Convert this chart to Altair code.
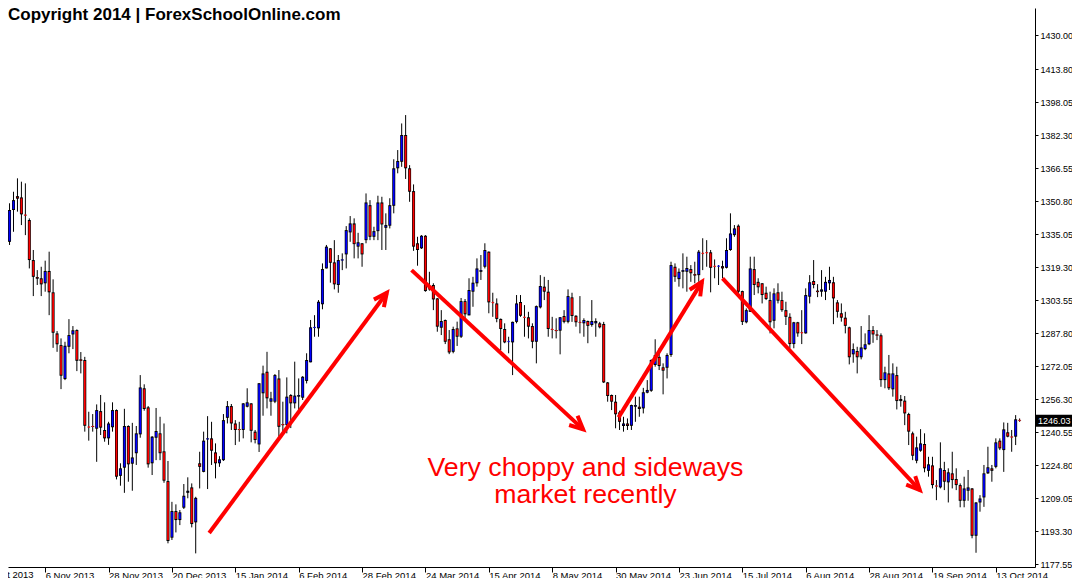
import math
import altair as alt
import pandas as pd
import numpy as np

# ---------------- data (gold daily candles) ----------------
opens = [1339.4, 1331.4, 1346.6, 1353.2, 1352.6, 1344.3, 1341.8, 1322.7, 1314.6, 1314.0,
         1311.6, 1317.5, 1307.3, 1287.7, 1282.1, 1265.9, 1281.3, 1287.2, 1289.3, 1275.3,
         1275.0, 1243.1, 1243.5, 1242.2, 1250.6, 1241.6, 1237.6, 1242.9, 1251.1, 1219.7,
         1223.6, 1243.5, 1225.5, 1230.5, 1239.5, 1261.5, 1252.4, 1225.7, 1237.9, 1240.0,
         1231.4, 1217.2, 1190.2, 1202.9, 1198.6, 1204.5, 1211.6, 1214.2, 1197.5, 1225.7,
         1221.6, 1237.1, 1237.6, 1230.9, 1225.7, 1227.2, 1247.4, 1253.0, 1244.7, 1242.0,
         1241.6, 1252.7, 1254.3, 1240.8, 1234.7, 1259.1, 1269.4, 1255.1, 1255.1, 1266.2,
         1244.4, 1243.9, 1258.3, 1254.3, 1257.5, 1257.0, 1265.0, 1273.9, 1290.4, 1290.1,
         1301.6, 1318.7, 1328.3, 1321.6, 1310.8, 1322.5, 1325.4, 1335.9, 1340.2, 1329.1,
         1330.7, 1332.2, 1348.9, 1333.8, 1336.5, 1350.2, 1338.1, 1339.1, 1348.6, 1366.5,
         1369.6, 1382.4, 1366.5, 1355.6, 1330.7, 1328.3, 1334.3, 1309.2, 1310.8, 1304.4,
         1290.4, 1294.1, 1284.9, 1278.9, 1290.1, 1286.1, 1303.1, 1296.3, 1307.6, 1311.6,
         1317.1, 1319.5, 1326.7, 1302.5, 1302.0, 1294.6, 1289.8, 1283.7, 1283.4, 1293.2,
         1302.7, 1295.5, 1295.4, 1291.2, 1283.7, 1300.1, 1310.0, 1307.6, 1289.8, 1289.3,
         1289.0, 1296.0, 1293.2, 1304.9, 1296.1, 1293.1, 1292.5, 1293.6, 1291.7, 1292.5,
         1292.5, 1292.2, 1264.3, 1258.3, 1255.1, 1250.0, 1243.5, 1244.7, 1243.6, 1252.7,
         1252.7, 1251.9, 1259.4, 1260.3, 1272.6, 1276.5, 1271.5, 1271.3, 1277.4, 1319.5,
         1313.6, 1317.1, 1317.1, 1318.4, 1316.0, 1315.5, 1326.0, 1326.3, 1326.4, 1319.8,
         1319.7, 1319.8, 1319.0, 1327.5, 1334.6, 1339.1, 1307.9, 1293.0, 1298.0, 1318.4,
         1312.3, 1311.6, 1307.1, 1303.6, 1293.7, 1307.3, 1303.6, 1298.8, 1295.6, 1282.6,
         1293.0, 1288.1, 1287.7, 1305.2, 1312.7, 1308.1, 1307.6, 1307.6, 1311.6, 1312.1,
         1302.5, 1297.3, 1295.2, 1290.6, 1277.7, 1279.3, 1276.3, 1280.2, 1282.5, 1289.3,
         1287.2, 1286.8, 1265.4, 1268.6, 1261.0, 1267.8, 1256.4, 1255.6, 1249.2, 1240.0,
         1226.9, 1231.7, 1234.9, 1222.1, 1224.7, 1215.0, 1214.2, 1222.5, 1216.6, 1220.9,
         1218.2, 1215.3, 1207.8, 1212.6, 1213.7, 1191.1, 1207.0, 1209.4, 1220.9, 1223.3,
         1224.0, 1236.5, 1232.0, 1240.5, 1238.4, 1238.4, 1246.3]
highs = [1342.1, 1349.8, 1355.3, 1361.7, 1360.1, 1359.3, 1342.6, 1327.5, 1317.9, 1319.5,
         1322.4, 1326.7, 1313.5, 1288.8, 1285.3, 1283.7, 1294.5, 1291.2, 1289.6, 1278.8,
         1276.5, 1250.3, 1249.2, 1253.8, 1258.3, 1254.8, 1245.5, 1254.8, 1251.4, 1225.7,
         1251.7, 1243.8, 1245.0, 1243.5, 1267.8, 1263.4, 1253.0, 1238.7, 1252.1, 1247.9,
         1244.7, 1226.8, 1207.3, 1206.1, 1203.4, 1215.8, 1219.0, 1216.1, 1209.7, 1231.2,
         1240.8, 1248.2, 1245.5, 1235.2, 1229.1, 1249.2, 1255.4, 1254.0, 1246.3, 1245.5,
         1254.4, 1261.5, 1254.4, 1241.6, 1264.0, 1272.3, 1278.9, 1259.8, 1268.3, 1270.2,
         1255.1, 1266.7, 1258.7, 1274.2, 1266.2, 1267.3, 1278.2, 1294.1, 1296.4, 1303.6,
         1321.1, 1329.9, 1328.4, 1332.2, 1325.1, 1325.9, 1338.9, 1343.7, 1342.6, 1335.7,
         1330.8, 1354.5, 1351.3, 1338.6, 1353.4, 1352.9, 1345.0, 1352.2, 1370.8, 1375.2,
         1387.9, 1391.9, 1368.0, 1358.8, 1333.8, 1334.6, 1334.6, 1317.1, 1311.6, 1304.6,
         1298.8, 1294.3, 1289.3, 1290.9, 1293.3, 1304.6, 1304.1, 1314.0, 1314.7, 1323.5,
         1325.1, 1330.7, 1326.8, 1307.1, 1304.4, 1294.8, 1292.5, 1286.1, 1293.3, 1306.0,
         1306.0, 1301.2, 1298.0, 1292.5, 1301.0, 1315.5, 1314.7, 1313.2, 1295.6, 1294.9,
         1295.5, 1298.8, 1308.7, 1307.1, 1296.4, 1305.5, 1294.9, 1293.8, 1303.6, 1294.9,
         1293.2, 1293.2, 1264.5, 1258.5, 1258.3, 1250.8, 1247.9, 1247.1, 1253.7, 1257.5,
         1257.5, 1261.7, 1265.4, 1275.3, 1284.9, 1280.6, 1273.4, 1278.2, 1321.9, 1321.1,
         1318.7, 1325.9, 1324.3, 1320.3, 1321.9, 1327.5, 1333.1, 1332.2, 1327.5, 1323.0,
         1320.3, 1322.4, 1333.1, 1345.0, 1339.4, 1339.7, 1308.1, 1299.6, 1324.3, 1324.3,
         1314.0, 1311.7, 1310.0, 1307.6, 1309.2, 1311.6, 1307.6, 1302.8, 1297.3, 1293.2,
         1293.2, 1298.8, 1309.2, 1315.5, 1322.7, 1311.2, 1317.9, 1314.7, 1319.5, 1314.7,
         1303.6, 1302.0, 1298.0, 1290.9, 1282.9, 1281.3, 1291.2, 1287.7, 1296.4, 1291.2,
         1289.3, 1287.7, 1271.8, 1277.4, 1273.4, 1271.8, 1258.3, 1257.8, 1249.8, 1240.8,
         1238.4, 1242.0, 1240.0, 1228.8, 1228.8, 1217.7, 1235.7, 1226.4, 1223.3, 1231.2,
         1223.3, 1216.1, 1219.3, 1222.5, 1213.9, 1207.2, 1210.5, 1224.9, 1233.6, 1224.9,
         1237.6, 1237.6, 1245.2, 1245.0, 1241.6, 1248.7, 1247.1]
lows = [1329.1, 1329.9, 1336.2, 1345.8, 1339.4, 1334.6, 1318.7, 1305.5, 1310.8, 1305.5,
        1307.6, 1296.4, 1280.8, 1278.9, 1261.1, 1265.4, 1278.2, 1280.2, 1269.7, 1268.6,
        1240.8, 1236.5, 1240.8, 1226.4, 1239.2, 1236.0, 1234.5, 1240.8, 1218.0, 1215.0,
        1211.6, 1216.9, 1212.6, 1224.9, 1237.9, 1250.8, 1223.6, 1220.1, 1227.2, 1227.2,
        1216.4, 1187.5, 1189.1, 1192.7, 1196.2, 1203.9, 1209.0, 1195.1, 1182.7, 1213.7,
        1221.4, 1213.4, 1224.9, 1218.5, 1224.0, 1226.8, 1244.7, 1241.6, 1234.4, 1236.0,
        1237.6, 1252.4, 1235.7, 1235.2, 1231.1, 1248.4, 1251.9, 1248.4, 1254.4, 1238.4,
        1239.2, 1240.0, 1242.5, 1251.9, 1250.3, 1255.9, 1263.8, 1273.9, 1286.1, 1286.1,
        1299.2, 1318.7, 1311.9, 1308.7, 1307.1, 1317.9, 1318.7, 1331.4, 1323.5, 1323.5,
        1319.5, 1330.7, 1332.2, 1332.2, 1332.2, 1327.5, 1327.5, 1337.8, 1345.0, 1364.1,
        1367.2, 1361.4, 1350.5, 1327.1, 1320.0, 1328.0, 1307.6, 1308.1, 1298.8, 1288.5,
        1286.9, 1282.6, 1277.8, 1278.2, 1281.7, 1285.5, 1295.0, 1296.3, 1300.4, 1310.0,
        1313.2, 1318.7, 1297.3, 1295.6, 1293.0, 1279.7, 1283.0, 1278.2, 1267.8, 1292.5,
        1295.6, 1286.1, 1285.3, 1280.6, 1273.4, 1299.6, 1303.6, 1286.1, 1285.3, 1285.3,
        1277.7, 1292.5, 1292.5, 1293.2, 1290.9, 1287.7, 1286.1, 1283.0, 1290.9, 1286.1,
        1290.1, 1264.0, 1255.1, 1251.1, 1242.4, 1241.6, 1240.8, 1241.6, 1241.6, 1245.5,
        1247.9, 1249.5, 1259.1, 1259.8, 1271.8, 1270.2, 1258.6, 1266.2, 1276.5, 1312.3,
        1310.0, 1309.2, 1307.6, 1312.3, 1311.6, 1312.3, 1317.9, 1319.5, 1307.3, 1314.0,
        1310.8, 1314.0, 1318.7, 1327.1, 1333.8, 1306.0, 1291.7, 1292.5, 1297.9, 1306.0,
        1306.8, 1302.0, 1303.6, 1287.7, 1290.1, 1302.0, 1298.0, 1291.7, 1280.6, 1280.6,
        1286.1, 1282.6, 1287.6, 1302.0, 1309.2, 1305.0, 1305.2, 1303.6, 1308.4, 1292.1,
        1295.2, 1293.3, 1287.7, 1272.9, 1273.7, 1268.6, 1275.3, 1279.7, 1282.1, 1283.2,
        1284.5, 1262.2, 1261.5, 1260.7, 1257.5, 1251.4, 1252.7, 1243.9, 1234.4, 1227.2,
        1225.7, 1231.2, 1221.4, 1219.3, 1213.7, 1208.1, 1213.7, 1212.9, 1207.0, 1213.7,
        1212.9, 1204.7, 1204.7, 1207.8, 1189.9, 1183.0, 1202.6, 1204.9, 1220.6, 1216.9,
        1223.3, 1232.0, 1221.6, 1238.1, 1231.2, 1234.4, 1245.5]
closes = [1333.1, 1346.6, 1351.3, 1352.0, 1344.5, 1344.0, 1322.7, 1314.7, 1313.8, 1311.1,
          1317.5, 1307.3, 1288.0, 1282.5, 1267.5, 1281.8, 1286.9, 1289.2, 1274.6, 1274.6,
          1243.6, 1242.9, 1243.1, 1251.1, 1242.7, 1237.6, 1244.7, 1251.1, 1219.3, 1223.3,
          1243.5, 1225.2, 1228.5, 1240.0, 1261.9, 1251.6, 1225.2, 1238.4, 1241.1, 1230.5,
          1217.4, 1188.6, 1202.9, 1198.6, 1202.3, 1210.2, 1212.6, 1196.7, 1209.2, 1224.0,
          1236.5, 1237.6, 1231.7, 1225.7, 1227.6, 1246.3, 1253.0, 1244.7, 1241.6, 1241.6,
          1254.3, 1254.8, 1241.2, 1236.8, 1263.9, 1268.6, 1256.7, 1256.7, 1267.8, 1243.1,
          1243.9, 1257.5, 1254.3, 1258.0, 1258.3, 1267.0, 1275.0, 1290.6, 1290.7, 1302.8,
          1318.4, 1329.1, 1321.4, 1311.1, 1322.7, 1323.0, 1337.0, 1340.2, 1330.3, 1331.2,
          1325.4, 1350.2, 1333.8, 1336.5, 1350.2, 1339.7, 1339.4, 1348.9, 1366.5, 1370.0,
          1382.4, 1366.5, 1355.3, 1329.1, 1327.5, 1334.3, 1307.9, 1308.7, 1303.9, 1290.9,
          1293.6, 1283.7, 1278.6, 1289.8, 1286.1, 1303.1, 1296.8, 1308.4, 1311.9, 1318.7,
          1317.9, 1327.5, 1302.5, 1302.3, 1294.6, 1289.8, 1283.4, 1283.9, 1293.2, 1302.0,
          1296.1, 1295.3, 1290.9, 1283.7, 1300.7, 1310.3, 1307.6, 1289.8, 1289.5, 1288.8,
          1295.4, 1293.2, 1305.5, 1296.0, 1293.0, 1292.8, 1294.1, 1291.3, 1293.6, 1293.6,
          1290.6, 1264.3, 1257.8, 1255.1, 1249.1, 1245.5, 1244.7, 1243.5, 1253.5, 1253.5,
          1251.6, 1259.6, 1260.7, 1275.0, 1277.4, 1272.1, 1269.9, 1277.4, 1320.3, 1314.7,
          1317.1, 1317.9, 1318.9, 1316.4, 1315.3, 1326.7, 1325.8, 1326.1, 1319.0, 1319.6,
          1319.9, 1318.7, 1327.5, 1335.4, 1337.8, 1307.6, 1293.2, 1298.8, 1318.7, 1310.8,
          1309.7, 1306.0, 1304.1, 1293.0, 1306.8, 1303.3, 1298.8, 1295.6, 1282.6, 1293.0,
          1287.7, 1287.9, 1306.0, 1312.1, 1310.8, 1307.4, 1308.7, 1312.3, 1313.2, 1304.4,
          1298.0, 1295.2, 1291.3, 1276.3, 1280.2, 1276.3, 1281.0, 1282.5, 1289.3, 1287.2,
          1286.6, 1265.4, 1269.1, 1261.5, 1268.6, 1255.4, 1255.4, 1249.5, 1240.8, 1229.3,
          1233.3, 1235.2, 1223.3, 1225.2, 1215.3, 1214.7, 1223.3, 1216.9, 1221.4, 1217.7,
          1215.3, 1207.8, 1213.7, 1214.2, 1191.1, 1207.0, 1208.9, 1220.9, 1223.8, 1222.1,
          1235.7, 1232.8, 1241.9, 1238.4, 1238.1, 1246.7, 1246.03]

# x-axis date labels (candle index of each label)
date_tick_index = [10, 26, 42, 58, 74, 90, 106, 122, 138, 154, 170, 186, 202, 218, 234, 250]
date_labels = ["6 Nov 2013", "28 Nov 2013", "20 Dec 2013", "15 Jan 2014", "6 Feb 2014",
               "28 Feb 2014", "24 Mar 2014", "15 Apr 2014", "8 May 2014", "30 May 2014",
               "23 Jun 2014", "15 Jul 2014", "6 Aug 2014", "28 Aug 2014", "19 Sep 2014",
               "13 Oct 2014"]
# label that is cut off at the left edge of the window
edge_label_index = [-6]
edge_label = ["15 Oct 2013"]
# right price axis ticks
price_ticks = [1177.55, 1193.30, 1209.05, 1224.80, 1240.55, 1256.30, 1272.05, 1287.80,
               1303.55, 1319.30, 1335.05, 1350.80, 1366.55, 1382.30, 1398.05, 1413.80,
               1430.00]

# annotation arrows: (start index, start price) -> (end index, end price)
arrow_x0 = [51.4, 102.5, 154.75, 181.0]
arrow_p0 = [1192.4, 1317.9, 1247.6, 1314.0]
arrow_x1 = [96.25, 145.8, 175.8, 230.8]
arrow_p1 = [1307.1, 1241.9, 1312.3, 1212.9]

note_lines = ["Very choppy and sideways", "market recently"]
note_index = [146.4, 146.4]
note_price = [1219.6, 1206.7]
copyright_text = "Copyright 2014 | ForexSchoolOnline.com"

# ---------------- layout ----------------
W, H = 1027, 559
PAD_R, PAD_B = 37, 11
X0 = 1.875
X1 = X0 + W / 4.0
Y0, Y1 = 1176.2, 1443.0
FONT = "Liberation Sans"
LBL_PAD = -2

df = pd.DataFrame({"i": np.arange(len(opens)), "o": opens, "h": highs, "l": lows, "c": closes})
df["dir"] = np.where(df["c"] >= df["o"], "up", "down")
df["bt"] = df[["o", "c"]].max(axis=1)
df["bb"] = df[["o", "c"]].min(axis=1)

xs = alt.Scale(domain=[X0, X1], nice=False, zero=False)
ys = alt.Scale(domain=[Y0, Y1], nice=False, zero=False)

label_arr = "[" + ",".join("'%s'" % s for s in date_labels) + "]"
x_axis = alt.Axis(values=date_tick_index, labelExpr=label_arr + "[round((datum.value - 10) / 16)]",
                  labelAlign="left", labelBaseline="top", labelPadding=LBL_PAD, labelOffset=0,
                  tickSize=5, tickColor="black", domainColor="black", labelColor="black",
                  labelFont=FONT, labelFontSize=9.5, labelFlush=False, labelOverlap=False,
                  grid=False, title=None)
y_axis = alt.Axis(orient="right", values=price_ticks, format=".2f", tickSize=3, labelPadding=2,
                  tickColor="black", domainColor="black", labelColor="black", labelFont=FONT,
                  labelFontSize=9, labelFlush=False, labelOverlap=False, grid=False, title=None)


def X(field):
    return alt.X(field, type="quantitative", scale=xs, axis=x_axis)


def Y(field):
    return alt.Y(field, type="quantitative", scale=ys, axis=y_axis)


base = alt.Chart(df)
wicks = base.mark_rule(color="black", strokeWidth=1, clip=True).encode(
    x=X("i"), y=Y("l"), y2="h")
outline = base.mark_bar(size=3, color="black", clip=True, opacity=1).encode(
    x=X("i"), y=Y("bt"), y2="bb")
fill = base.mark_bar(size=1.7, clip=True, opacity=1, yOffset=1, y2Offset=-1).encode(
    x=X("i"), y=Y("bt"), y2="bb",
    color=alt.Color("dir:N", scale=alt.Scale(domain=["up", "down"], range=["#0000ff", "#ff0000"]),
                    legend=None))

# arrows
px_i = W / (X1 - X0)
px_p = H / (Y1 - Y0)
rows, heads = [], []
for k in range(len(arrow_x0)):
    rows.append({"a": k, "n": 0, "i": arrow_x0[k], "p": arrow_p0[k]})
    rows.append({"a": k, "n": 1, "i": arrow_x1[k], "p": arrow_p1[k]})
    dx = (arrow_x1[k] - arrow_x0[k]) * px_i
    dy = -(arrow_p1[k] - arrow_p0[k]) * px_p
    ang = math.degrees(math.atan2(dx, -dy)) % 360
    heads.append({"i": arrow_x1[k], "p": arrow_p1[k], "ang": ang})
arrow_df = pd.DataFrame(rows)
head_df = pd.DataFrame(heads)

arrow_lines = alt.Chart(arrow_df).mark_line(color="#ff0000", strokeWidth=4, strokeCap="butt").encode(
    x=X("i"), y=Y("p"), detail="a:N", order="n:Q")
arrow_heads = alt.Chart(head_df).mark_point(
    shape="M -0.47 1 L 0 0 L 0.47 1", filled=False, stroke="#ff0000", strokeWidth=4,
    size=700, opacity=1, strokeJoin="miter").encode(
    x=X("i"), y=Y("p"), angle=alt.Angle("ang:Q", scale=None))

note_df = pd.DataFrame({"i": note_index, "p": note_price, "t": note_lines})
notes = alt.Chart(note_df).mark_text(font=FONT, fontSize=26.7, color="#ff0000", align="center",
                                     baseline="alphabetic").encode(
    x=X("i"), y=Y("p"), text="t:N")

copy_df = pd.DataFrame({"t": [copyright_text]})
copyright = alt.Chart(copy_df).mark_text(font=FONT, fontSize=17, fontWeight="bold", color="black",
                                         align="left", baseline="alphabetic").encode(
    x=alt.value(0), y=alt.value(12), text="t:N")

edge_df = pd.DataFrame({"i": edge_label_index, "t": edge_label})
edge_text = alt.Chart(edge_df).mark_text(font=FONT, fontSize=9.5, color="black", align="left",
                                         baseline="top").encode(
    x=X("i"), y=alt.value(H + 5 + LBL_PAD), text="t:N")

last_df = pd.DataFrame({"p": [closes[-1]]})
tag_box = alt.Chart(last_df).mark_rect(color="black", yOffset=-6, y2Offset=6).encode(
    x=alt.value(W + 1), x2=alt.value(W + PAD_R), y=Y("p"), y2="p")
tag_text = alt.Chart(last_df).mark_text(font=FONT, fontSize=9, color="white", align="left",
                                        baseline="middle").encode(
    x=alt.value(W + 3), y=Y("p"), text=alt.Text("p:Q", format=".2f"))

chart = alt.layer(wicks, outline, fill, arrow_lines, arrow_heads, notes, copyright, edge_text,
                  tag_box, tag_text).properties(
    width=W, height=H,
    autosize=alt.AutoSizeParams(type="none"),
    padding={"left": 0, "top": 0, "right": PAD_R, "bottom": PAD_B},
    background="white").configure_view(stroke=None)

chart.save("out.html", embed_options={"renderer": "svg", "actions": False})
